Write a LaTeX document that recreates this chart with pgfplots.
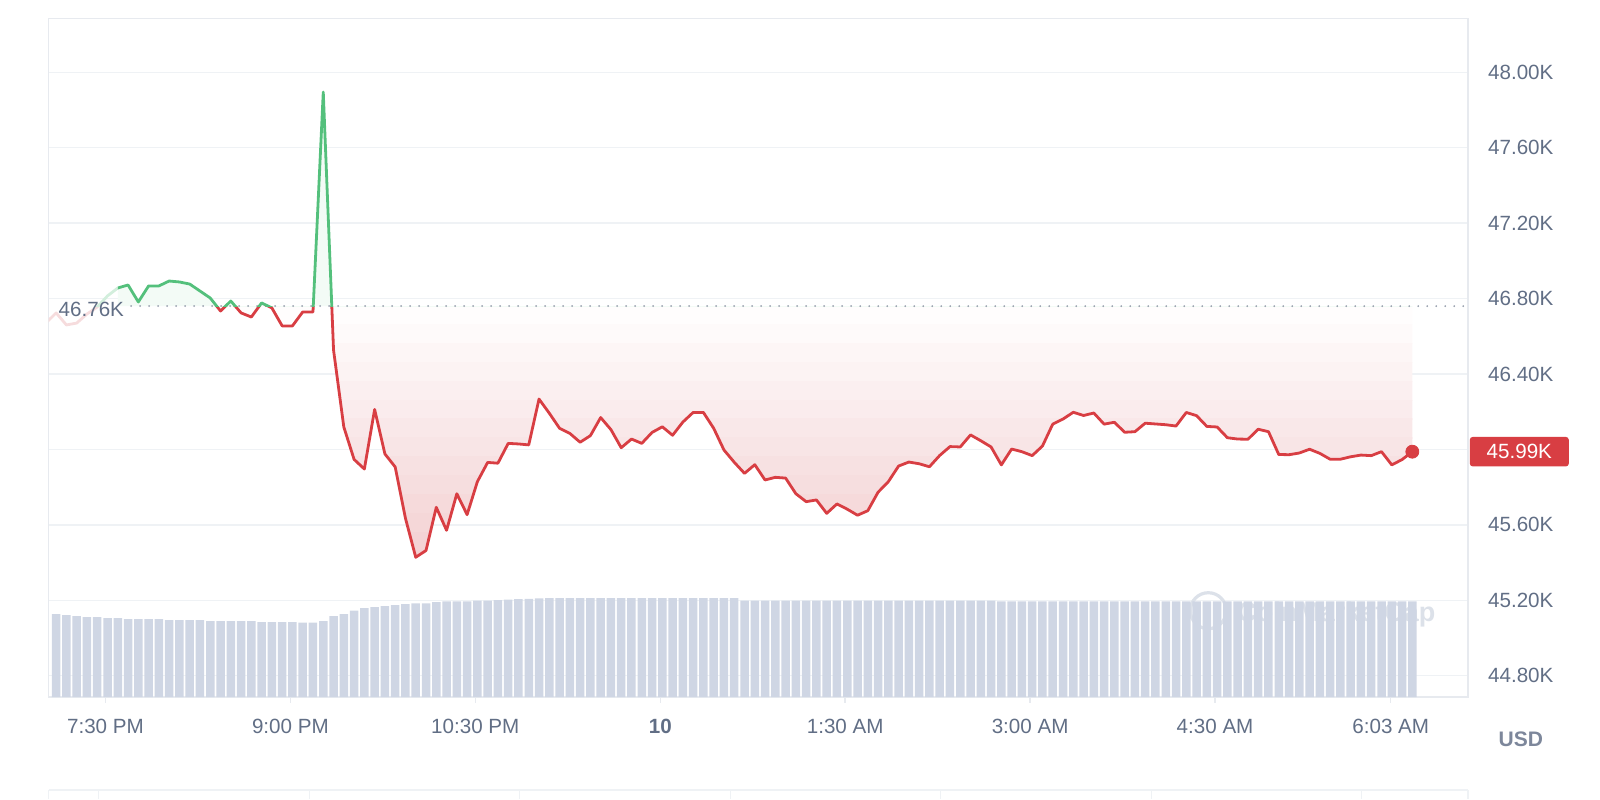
\documentclass[border=0pt]{standalone}
\usepackage{fontspec}
\setmainfont{Liberation Sans}
\usepackage{pgfplots}
\usepackage{pgfplotstable}
\pgfplotsset{compat=1.18}

\definecolor{cmcred}{RGB}{216,62,67}
\definecolor{cmcgreen}{RGB}{84,192,124}
\definecolor{faintred}{RGB}{246,220,221}
\definecolor{faintgreen}{RGB}{210,238,220}
\definecolor{fillred}{RGB}{243,208,210}
\definecolor{gridc}{RGB}{239,242,245}
\definecolor{framec}{RGB}{231,234,239}
\definecolor{barc}{RGB}{207,214,228}
\definecolor{labc}{RGB}{97,110,133}
\definecolor{dotc}{RGB}{150,158,172}
\definecolor{usdc}{RGB}{125,135,155}
\definecolor{wmc}{RGB}{220,225,233}

% price in thousands USD, x = minutes after 7:30 PM
\pgfplotstableread{
m v
-30 46.670
-25 46.724
-20 46.660
-15 46.670
-10 46.718
-5 46.755
0 46.814
5 46.856
10 46.872
15 46.782
20 46.867
25 46.867
30 46.893
35 46.888
40 46.877
45 46.840
50 46.803
55 46.734
60 46.787
65 46.724
70 46.702
75 46.777
80 46.750
85 46.655
90 46.655
95 46.729
100 46.729
105 47.895
110 46.527
115 46.119
120 45.947
125 45.896
130 46.212
135 45.976
140 45.907
145 45.635
150 45.428
155 45.464
160 45.693
165 45.571
170 45.765
175 45.654
180 45.829
185 45.931
190 45.927
195 46.032
200 46.029
205 46.024
210 46.267
215 46.192
220 46.112
225 46.085
230 46.038
235 46.073
240 46.169
245 46.105
250 46.009
255 46.055
260 46.032
265 46.090
270 46.120
275 46.075
280 46.145
285 46.196
290 46.196
295 46.112
300 45.997
305 45.932
310 45.873
315 45.919
320 45.838
325 45.852
330 45.848
335 45.765
340 45.723
345 45.732
350 45.661
355 45.711
360 45.683
365 45.651
370 45.675
375 45.773
380 45.829
385 45.912
390 45.933
395 45.924
400 45.908
405 45.968
410 46.015
415 46.013
420 46.077
425 46.046
430 46.013
435 45.918
440 46.002
445 45.988
450 45.967
455 46.018
460 46.134
465 46.161
470 46.197
475 46.180
480 46.193
485 46.134
490 46.144
495 46.091
500 46.094
505 46.139
510 46.135
515 46.131
520 46.124
525 46.196
530 46.179
535 46.122
540 46.119
545 46.062
550 46.055
555 46.054
560 46.107
565 46.094
570 45.973
575 45.972
580 45.981
585 46.001
590 45.979
595 45.948
600 45.948
605 45.961
610 45.970
615 45.967
620 45.988
625 45.918
630 45.946
635 45.988
}\price

% relative volume
\pgfplotstableread{
m vol
-25 20.75
-20 20.5
-15 20.25
-10 20.0
-5 20.0
0 19.75
5 19.75
10 19.5
15 19.5
20 19.5
25 19.5
30 19.25
35 19.25
40 19.25
45 19.25
50 19.0
55 19.0
60 19.0
65 19.0
70 19.0
75 18.75
80 18.75
85 18.75
90 18.75
95 18.6
100 18.6
105 19.0
110 20.25
115 20.7
120 21.6
125 22.25
130 22.5
135 22.75
140 23.0
145 23.25
150 23.4
155 23.4
160 23.7
165 23.9
170 23.9
175 23.9
180 24.1
185 24.1
190 24.25
195 24.35
200 24.45
205 24.55
210 24.65
215 24.7
220 24.7
225 24.7
230 24.7
235 24.7
240 24.7
245 24.7
250 24.7
255 24.7
260 24.7
265 24.7
270 24.7
275 24.7
280 24.7
285 24.7
290 24.7
295 24.7
300 24.7
305 24.7
310 24.1
315 24.1
320 24.1
325 24.1
330 24.1
335 24.1
340 24.1
345 24.1
350 24.1
355 24.1
360 24.1
365 24.1
370 24.1
375 24.1
380 24.1
385 24.1
390 24.1
395 24.1
400 24.1
405 24.1
410 24.1
415 24.1
420 24.1
425 24.1
430 24.1
435 23.9
440 23.9
445 23.9
450 23.9
455 23.9
460 23.9
465 23.9
470 23.9
475 23.9
480 23.9
485 23.9
490 23.9
495 23.9
500 23.9
505 23.9
510 23.9
515 23.9
520 23.9
525 23.9
530 23.9
535 23.9
540 23.9
545 23.9
550 23.9
555 23.9
560 23.9
565 23.9
570 23.9
575 23.9
580 23.9
585 23.9
590 23.9
595 23.9
600 23.9
605 23.9
610 23.9
615 23.9
620 23.9
625 23.9
630 23.9
635 23.9
}\volume

% one band of the stepped gradient between the price line and the 46.76K line
\newcommand{\band}[3]{%
  \begin{scope}
  \clip (axis cs:5,#1) rectangle (axis cs:700,#2);
  \addplot[fill=#3, draw=none] table[x=m, y=v] {\price}
    -- (axis cs:635,46.76) -- (axis cs:-30,46.76) -- cycle;
  \end{scope}}

\begin{document}
\begin{tikzpicture}
\path (0,0) rectangle (800pt,399.5pt);
\pgfplotsset{base/.style={at={(24.35pt,51pt)}, anchor=south west, scale only axis,
  width=709.65pt, height=339.3pt, xmin=-28.62, xmax=662.1}}

% frame, grid, labels
\begin{axis}[base, ymin=44.6871, ymax=48.2856, clip=false,
  axis line style={draw=framec, line width=0.7pt},
  ytick={44.8,45.2,45.6,46.0,46.4,46.8,47.2,47.6,48.0},
  yticklabels={44.80K,45.20K,45.60K,{},46.40K,46.80K,47.20K,47.60K,48.00K},
  yticklabel pos=right,
  ymajorgrids, grid style={draw=gridc, line width=0.7pt},
  ytick style={draw=none},
  xtick={-1,89,179,269,359,449,539,624.5},
  xticklabels={7:30 PM,9:00 PM,10:30 PM,\textbf{10},1:30 AM,3:00 AM,4:30 AM,6:03 AM},
  xtick pos=lower,
  xtick style={draw=framec, line width=0.7pt},
  tick align=outside, major tick length=3pt,
  ticklabel style={font=\fontsize{10.3}{12}\selectfont, text=labc},
  yticklabel style={anchor=west, inner sep=0pt, xshift=6.85pt},
  xticklabel style={anchor=north, inner sep=0pt, yshift=-7.7pt},
]
\draw[wmc, line width=1.6pt] (axis cs:535.7,45.1447) circle[radius=9pt];
\node[anchor=base west, inner sep=0pt, text=wmc, font=\bfseries\fontsize{13.5}{15}\selectfont]
  at (axis cs:549.7,45.0864) {CoinMarketCap};
\node[anchor=west, xshift=0.7pt, fill=cmcred, text=white, rounded corners=1.5pt,
  minimum width=49.5pt, minimum height=14.8pt, inner sep=0pt,
  font=\fontsize{10.3}{12}\selectfont] at (axis cs:662.1,45.988) {45.99K};
\end{axis}

% volume bars
\begin{axis}[base, ymin=0, ymax=169.65, hide axis, ybar, bar width=4.25pt]
\addplot[fill=barc, draw=none] table[x=m, y=vol] {\volume};
\end{axis}

% price
\begin{axis}[base, ymin=44.6871, ymax=48.2856, hide axis]
\band{46.66}{46.76}{fillred!4}
\band{46.56}{46.662}{fillred!11}
\band{46.46}{46.562}{fillred!19}
\band{46.36}{46.462}{fillred!26}
\band{46.26}{46.362}{fillred!34}
\band{46.16}{46.262}{fillred!41}
\band{46.06}{46.162}{fillred!49}
\band{45.96}{46.062}{fillred!56}
\band{45.86}{45.962}{fillred!64}
\band{45.76}{45.862}{fillred!71}
\band{45.66}{45.762}{fillred!79}
\band{45.56}{45.662}{fillred!86}
\band{45.46}{45.562}{fillred!94}
\band{44.90}{45.462}{fillred}
\band{46.76}{48.20}{cmcgreen!7}
\addplot[dotc, line width=1pt, line cap=round, dash pattern=on 0pt off 4.5pt]
  coordinates {(11.5,46.76) (662.1,46.76)};
\begin{scope}
\clip (axis cs:-40,44) rectangle (axis cs:5,46.76);
\addplot[faintred, line width=1.4pt, line join=round] table[x=m, y=v] {\price};
\end{scope}
\begin{scope}
\clip (axis cs:-40,46.76) rectangle (axis cs:5,48.2);
\addplot[faintgreen, line width=1.4pt, line join=round] table[x=m, y=v] {\price};
\end{scope}
\begin{scope}
\clip (axis cs:5,44) rectangle (axis cs:700,46.76);
\addplot[cmcred, line width=1.4pt, line join=round] table[x=m, y=v] {\price};
\end{scope}
\begin{scope}
\clip (axis cs:5,46.76) rectangle (axis cs:700,48.2);
\addplot[cmcgreen, line width=1.4pt, line join=round] table[x=m, y=v] {\price};
\end{scope}
\addplot[only marks, mark=*, mark size=3.25pt, mark options={fill=cmcred, draw=cmcred}]
  coordinates {(635,45.988)};
\node[anchor=west, inner sep=0pt, xshift=4.8pt, yshift=-1.6pt, text=labc,
  font=\fontsize{10.3}{12}\selectfont] at (axis cs:-28.62,46.76) {46.76K};
\end{axis}

\node[font=\bfseries\fontsize{10.5}{12}\selectfont, text=usdc] at (760.4pt,29.9pt) {USD};
\draw[gridc, line width=0.7pt] (24.35pt,4.5pt) -- (734pt,4.5pt);
\foreach \x in {24.35,49.35,154.6,259.85,365.1,470.35,575.6,680.85,734}
  \draw[gridc, line width=0.7pt] (\x pt,4.5pt) -- (\x pt,0pt);
\end{tikzpicture}
\end{document}
